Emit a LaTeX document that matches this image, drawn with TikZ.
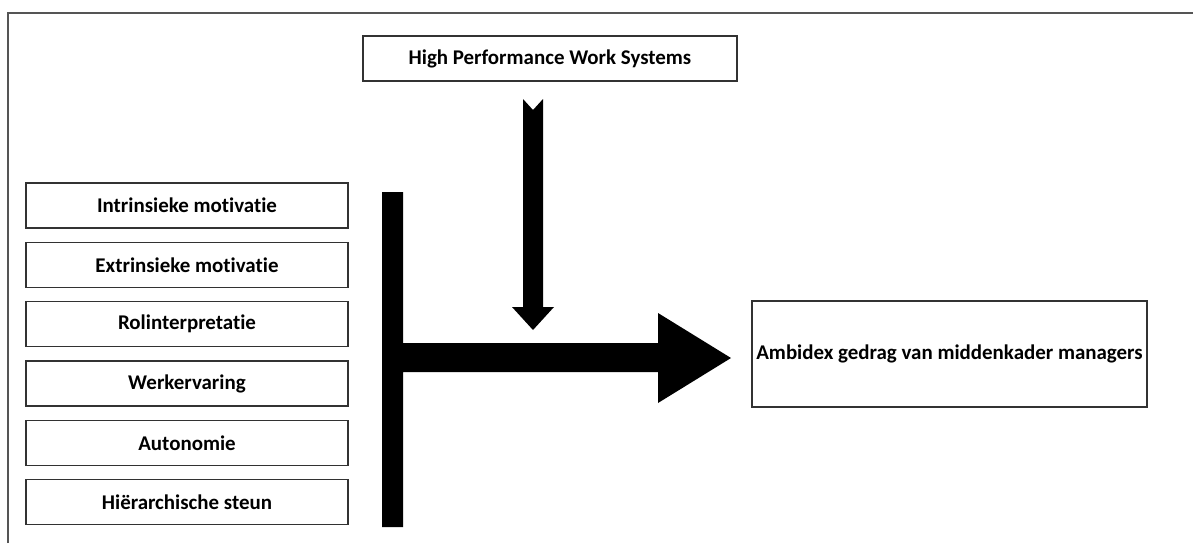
\documentclass[tikz,border=0pt]{standalone}
\usepackage{fontspec}
\setmainfont{Carlito}[Ligatures=NoCommon]
\definecolor{framegray}{RGB}{85,85,85}
\definecolor{boxgray}{RGB}{50,50,50}
\usetikzlibrary{positioning}
\begin{document}
\begin{tikzpicture}[x=0.75pt,y=-0.75pt,
  every node/.style={font=\bfseries\fontsize{15.7}{18}\selectfont},
  factor/.style={draw=boxgray,line width=1pt,inner sep=0pt,
                 minimum width=241.5pt,minimum height=33.75pt},
  block/.style={fill=black,draw=none}]
  \useasboundingbox (0,0) rectangle (1193,543);
  %% frame
  \draw[framegray,line width=1.6pt] (8,543) -- (8,13) -- (1193,13);
  %% moderator
  \node[factor,minimum width=280.5pt] (hpws) at (550,58.5) {High Performance Work Systems};
  %% factors
  \node[factor] (intr) at (187,205.5) {Intrinsieke motivatie};
  \node[factor,below=9.75pt of intr] (extr) {Extrinsieke motivatie};
  \node[factor,below=9.75pt of extr] (rol) {Rolinterpretatie};
  \node[factor,below=9.75pt of rol] (werk) {Werkervaring};
  \node[factor,below=9.75pt of werk] (auto) {Autonomie};
  \node[factor,below=9.75pt of auto] (hier) {Hiërarchische steun};
  %% outcome
  \node[factor,minimum width=296.25pt,minimum height=79.5pt] (ambi) at (949.5,354)
    {Ambidex gedrag van middenkader managers};
  %% big arrow
  \fill[block] (382,192) -- (403,192) -- (403,343) -- (658,343) -- (658,313)
    -- (731,358) -- (658,403) -- (658,372) -- (403,372) -- (403,527)
    -- (382,527) -- cycle;
  %% moderator arrow
  \fill[block] (523,99) -- (533,110) -- (543,99) -- (543,307) -- (554,307)
    -- (533,330) -- (512,307) -- (523,307) -- cycle;
\end{tikzpicture}
\end{document}
